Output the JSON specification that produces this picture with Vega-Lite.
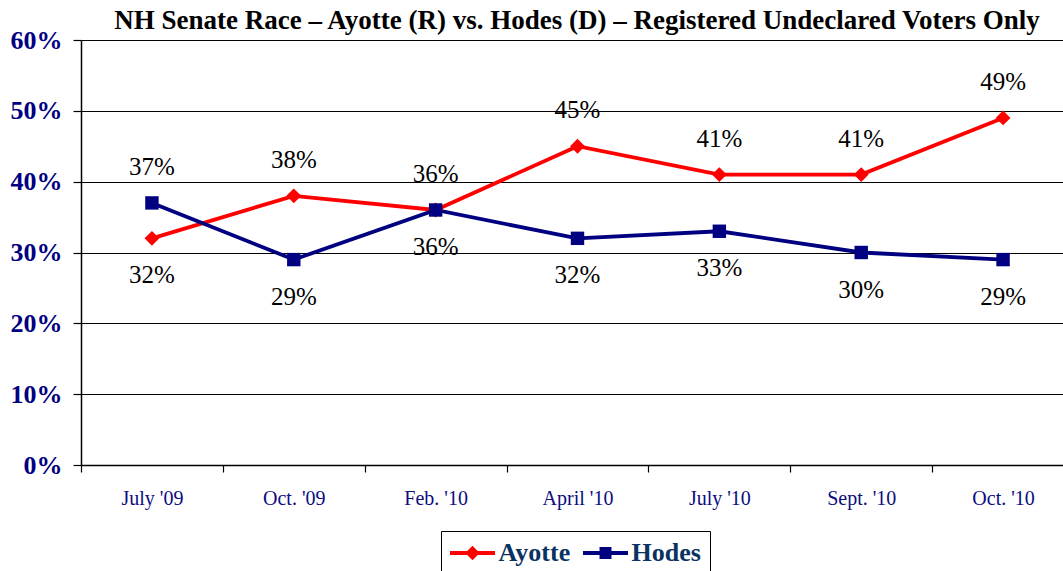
{
  "$schema": "https://vega.github.io/schema/vega-lite/v6.json",
  "width": 982,
  "height": 425,
  "autosize": {"type": "none"},
  "padding": {"left": 81, "top": 40, "right": 0, "bottom": 106},
  "background": "white",
  "title": {
    "text": "NH Senate Race – Ayotte (R) vs. Hodes (D) – Registered Undeclared Voters Only",
    "font": "Times New Roman, Liberation Serif, serif",
    "fontSize": 27,
    "fontWeight": "bold",
    "color": "black",
    "anchor": "middle",
    "frame": "group",
    "dx": 5,
    "offset": -8
  },
  "data": {
    "values": [
      {"month": "July '09", "series": "Ayotte", "value": 32},
      {"month": "Oct. '09", "series": "Ayotte", "value": 38},
      {"month": "Feb. '10", "series": "Ayotte", "value": 36},
      {"month": "April '10", "series": "Ayotte", "value": 45},
      {"month": "July '10", "series": "Ayotte", "value": 41},
      {"month": "Sept. '10", "series": "Ayotte", "value": 41},
      {"month": "Oct. '10", "series": "Ayotte", "value": 49},
      {"month": "July '09", "series": "Hodes", "value": 37},
      {"month": "Oct. '09", "series": "Hodes", "value": 29},
      {"month": "Feb. '10", "series": "Hodes", "value": 36},
      {"month": "April '10", "series": "Hodes", "value": 32},
      {"month": "July '10", "series": "Hodes", "value": 33},
      {"month": "Sept. '10", "series": "Hodes", "value": 30},
      {"month": "Oct. '10", "series": "Hodes", "value": 29}
    ]
  },
  "encoding": {
    "x": {
      "field": "month",
      "type": "ordinal",
      "sort": ["July '09", "Oct. '09", "Feb. '10", "April '10", "July '10", "Sept. '10", "Oct. '10"],
      "scale": {"type": "band", "range": [0, 993], "paddingInner": 0, "paddingOuter": 0},
      "axis": {
        "title": null,
        "tickBand": "extent",
        "grid": false,
        "labelAngle": 0,
        "domainColor": "black",
        "domainWidth": 1.5,
        "tickColor": "black",
        "tickWidth": 1.2,
        "tickSize": 7,
        "labelFont": "Times New Roman, Liberation Serif, serif",
        "labelFontSize": 20,
        "labelColor": "#0c0c80",
        "labelPadding": 16
      }
    },
    "y": {
      "field": "value",
      "type": "quantitative",
      "scale": {"domain": [0, 60], "nice": false, "zero": true},
      "axis": {
        "title": null,
        "values": [0, 10, 20, 30, 40, 50, 60],
        "labelExpr": "datum.value + '%'",
        "grid": true,
        "gridColor": "black",
        "gridWidth": 1,
        "gridOpacity": 1,
        "domainColor": "black",
        "domainWidth": 1.5,
        "tickColor": "black",
        "tickSize": 8,
        "tickWidth": 1.2,
        "labelFont": "Times New Roman, Liberation Serif, serif",
        "labelFontSize": 26,
        "labelFontWeight": "bold",
        "labelColor": "#000080",
        "labelPadding": 11
      }
    },
    "color": {
      "field": "series",
      "type": "nominal",
      "scale": {"domain": ["Ayotte", "Hodes"], "range": ["#FF0000", "#000080"]},
      "legend": {
        "title": null,
        "orient": "none",
        "legendX": 360,
        "legendY": 491,
        "direction": "horizontal",
        "strokeColor": "black",
        "padding": 9,
        "symbolSize": 676,
        "symbolOffset": 9.5,
        "symbolStrokeWidth": 0,
        "symbolOpacity": 1,
        "labelFont": "Times New Roman, Liberation Serif, serif",
        "labelFontSize": 26,
        "labelFontWeight": "bold",
        "labelColor": "#0a3363",
        "labelOffset": 13,
        "columnPadding": 12
      }
    }
  },
  "layer": [
    {
      "mark": {"type": "line", "strokeWidth": 3.8},
      "encoding": {"detail": {"field": "series"}}
    },
    {
      "transform": [{"filter": "datum.series === 'Ayotte'"}],
      "mark": {"type": "point", "shape": "diamond", "filled": true, "opacity": 1, "size": 220}
    },
    {
      "transform": [{"filter": "datum.series === 'Hodes'"}],
      "mark": {"type": "point", "shape": "square", "filled": true, "opacity": 1, "size": 180}
    },
    {
      "mark": {"type": "point", "filled": true, "opacity": 0},
      "encoding": {
        "shape": {
          "field": "series",
          "type": "nominal",
          "scale": {
            "domain": ["Ayotte", "Hodes"],
            "range": [
              "M-1.73,-0.15H1.73V0.15H-1.73Z M0,-0.56L0.56,0L0,0.56L-0.56,0Z",
              "M-1.73,-0.15H1.73V0.15H-1.73Z M-0.46,-0.46H0.46V0.46H-0.46Z"
            ]
          },
          "legend": {
            "title": null,
            "orient": "none",
            "legendX": 360,
            "legendY": 491,
            "direction": "horizontal",
            "strokeColor": "black",
            "padding": 9,
            "symbolSize": 676,
            "symbolOffset": 9.5,
            "symbolStrokeWidth": 0,
            "symbolOpacity": 1,
            "labelFont": "Times New Roman, Liberation Serif, serif",
            "labelFontSize": 26,
            "labelFontWeight": "bold",
            "labelColor": "#0a3363",
            "labelOffset": 13,
            "columnPadding": 12
          }
        }
      }
    },
    {
      "transform": [
        {"window": [{"op": "row_number", "as": "rank"}], "groupby": ["month"], "sort": [{"field": "value", "order": "descending"}, {"field": "series", "order": "ascending"}]},
        {"filter": "datum.rank === 1"},
        {"calculate": "datum.value + '%'", "as": "label"}
      ],
      "mark": {"type": "text", "font": "Times New Roman, Liberation Serif, serif", "fontSize": 25, "baseline": "middle", "dy": -36},
      "encoding": {"text": {"field": "label", "type": "nominal"}, "color": {"value": "black"}}
    },
    {
      "transform": [
        {"window": [{"op": "row_number", "as": "rank"}], "groupby": ["month"], "sort": [{"field": "value", "order": "descending"}, {"field": "series", "order": "ascending"}]},
        {"filter": "datum.rank === 2"},
        {"calculate": "datum.value + '%'", "as": "label"}
      ],
      "mark": {"type": "text", "font": "Times New Roman, Liberation Serif, serif", "fontSize": 25, "baseline": "middle", "dy": 37},
      "encoding": {"text": {"field": "label", "type": "nominal"}, "color": {"value": "black"}}
    }
  ],
  "config": {"view": {"stroke": null}}
}
